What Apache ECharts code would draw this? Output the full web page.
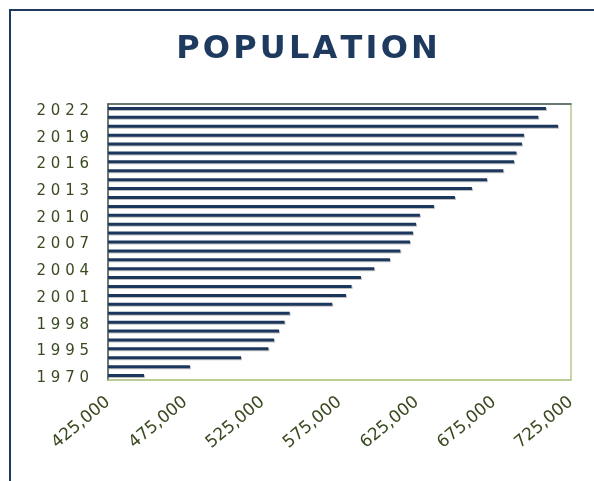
<!DOCTYPE html>
<html>
<head>
<meta charset="utf-8">
<script src="https://cdn.jsdelivr.net/npm/echarts@6/dist/echarts.min.js"></script>
<style>
html,body{margin:0;padding:0;background:#fff;}
#chart{width:594px;height:481px;}
</style>
</head>
<body>
<div id="chart"></div>
<script>
const titleText = 'POPULATION';
const years = ['1970','1980','1990','1995','1996','1997','1998','1999','2000','2001','2002','2003','2004','2005','2006','2007','2008','2009','2010','2011','2012','2013','2014','2015','2016','2017','2018','2019','2020','2021','2022'];
const population = [448300,478100,511200,528900,532600,535800,539400,542700,570300,579200,582800,588900,597500,607700,614400,620700,622600,624600,627100,636200,649800,660800,670600,681100,688100,689600,693200,694500,716600,703800,708800];
const xMin = 425000, xMax = 725000, xStep = 25000, xLabelStep = 50000;

const chart = echarts.init(document.getElementById('chart'), null, {renderer:'canvas'});
const spaced = s => s.split('').join('\u200A');
chart.setOption({
  animation:false,
  backgroundColor:'#fff',
  graphic:[{type:'rect',shape:{x:10,y:10,width:620,height:520},style:{fill:'none',stroke:'#1f3a5f',lineWidth:2},silent:true}],
  title:{text:spaced(titleText),left:302,top:29,textAlign:'center',
    textStyle:{fontFamily:'DejaVu Sans',fontWeight:'bold',fontSize:32,color:'#1f3a5f'}},
  grid:{left:108,top:104,right:23,bottom:101,show:true,borderColor:'#b8c98f',borderWidth:1.5,containLabel:false},
  xAxis:[{type:'value',min:xMin,max:xMax,interval:xStep,position:'bottom',
    axisLine:{show:true,lineStyle:{color:'#b8c98f',width:1.5}},
    axisTick:{show:false},splitLine:{show:false},
    axisLabel:{rotate:40,margin:20,fontFamily:'DejaVu Sans',fontSize:17,color:'#3a4a20',
      formatter:v=>((v-xMin)%xLabelStep===0)?v.toLocaleString('en-US'):''}},
    {type:'value',min:xMin,max:xMax,position:'top',axisLine:{show:true,lineStyle:{color:'#4a5b60',width:1.5}},
    axisTick:{show:false},axisLabel:{show:false},splitLine:{show:false}}],
  yAxis:{type:'category',data:years,
    axisLine:{show:true,lineStyle:{color:'#4a5b60',width:1.5}},
    axisTick:{show:false},
    axisLabel:{interval:2,margin:19,
      formatter:v=>'{a|'+v.split('').join(' ')+'}',
      rich:{a:{fontFamily:'DejaVu Sans',fontSize:15,color:'#3a4a20',padding:[5,0,0,0]}}}},
  series:[{type:'bar',data:population,barWidth:3,xAxisIndex:0,
    itemStyle:{color:'#1c375e',shadowColor:'rgba(0,0,0,0.25)',shadowOffsetX:1,shadowOffsetY:1,shadowBlur:0}}]
});
</script>
</body>
</html>
